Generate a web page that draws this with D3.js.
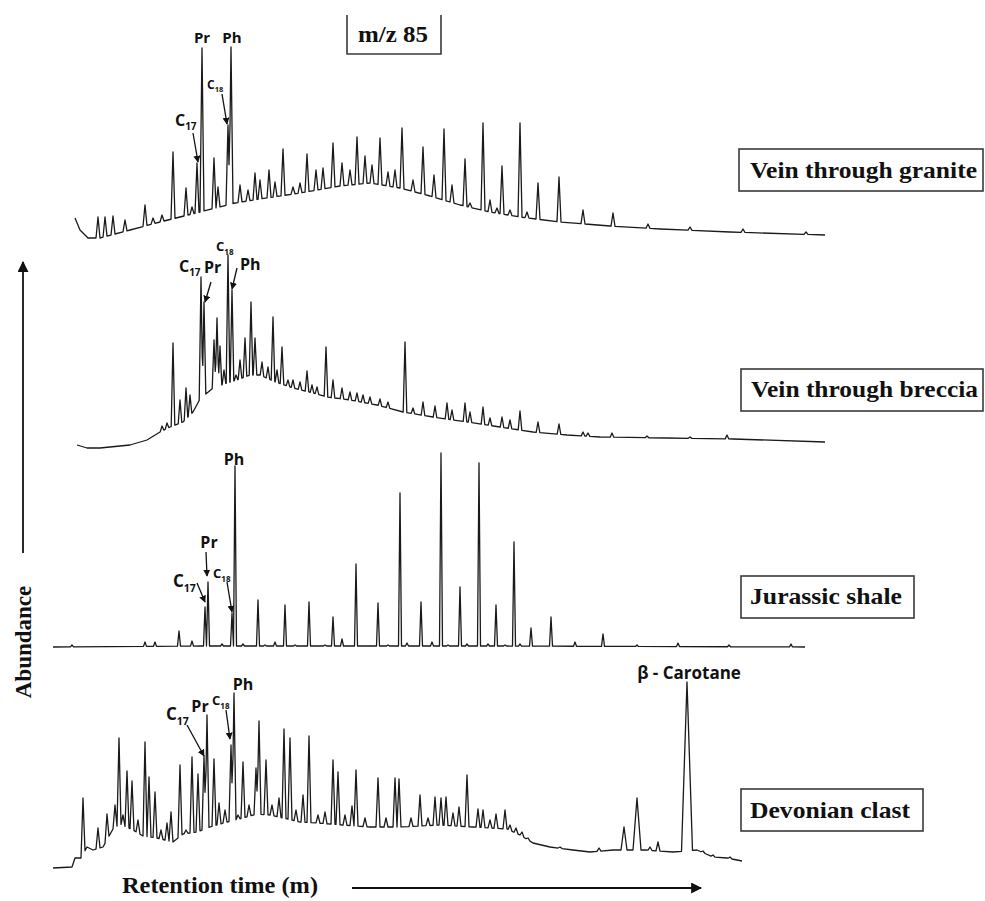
<!DOCTYPE html>
<html><head><meta charset="utf-8">
<script src="https://cdn.jsdelivr.net/npm/d3@7"></script>
<style>body{margin:0;background:#fff}</style>
</head><body>
<svg id="c" width="985" height="901"></svg>
<script>
// ---------------- DATA (retention in scan units, abundance in arbitrary units) ----------------
const sampleNames = ["Vein through granite", "Vein through breccia", "Jurassic shale", "Devonian clast"];
const ionLabel = "m/z 85";

// baseline hump (unresolved complex mixture) control points: [scan, abundance]
const graniteBaseline = [[25,22],[30,10],[38,2],[50,2],[80,10],[110,18],[150,28],[185,37],[210,41],[250,47],[290,54],[320,57],[350,52],[380,44],[410,35],[440,28],[470,23],[510,18],[560,14],[610,11],[680,8],[775,5]];
// resolved peaks: [scan, apex abundance]
const granitePeaks = [[48,23],[55,23],[63,24],[75,20],[95,35],[103,22],[112,25],[123,88],[136,52],[142,33],[147,77],[152,192],[164,82],[168,53],[178,115],[181,193],[190,55],[198,50],[205,67],[210,60],[219,70],[225,58],[233,91],[243,53],[250,57],[257,86],[266,70],[273,72],[283,97],[292,77],[300,70],[307,103],[315,84],[322,75],[330,102],[338,68],[345,70],[352,112],[363,60],[373,93],[384,65],[394,111],[402,55],[415,81],[420,37],[433,117],[440,40],[447,32],[452,74],[460,30],[470,117],[477,28],[488,57],[509,63],[533,30],[563,27],[598,16],[640,13],[693,11],[756,8]];

const brecciaBaseline = [[27,5],[37,2],[50,2],[80,5],[97,10],[110,18],[120,23],[133,28],[143,38],[150,51],[163,62],[177,67],[187,70],[200,75],[210,75],[223,69],[243,62],[263,57],[277,53],[300,50],[327,45],[353,38],[383,33],[417,28],[450,23],[483,18],[517,15],[550,13],[617,12],[683,11],[775,8]];
const brecciaPeaks = [[112,24],[117,27],[123,107],[130,50],[136,62],[140,55],[151,173],[154,148],[164,110],[167,132],[170,104],[174,80],[178,195],[182,160],[186,75],[190,90],[195,112],[201,148],[205,112],[212,88],[218,83],[223,133],[227,80],[232,103],[238,70],[243,70],[250,68],[257,79],[262,65],[267,63],[276,103],[283,70],[292,62],[300,58],[307,57],[313,55],[320,53],[330,51],[338,48],[355,108],[363,42],[373,48],[385,44],[397,47],[402,40],[415,47],[420,38],[433,43],[440,32],[452,33],[460,30],[470,39],[488,28],[509,26],[533,18],[538,17],[562,17],[597,14],[640,13],[677,15]];

const jurassicBaseline = [[3,1],[150,2],[450,2],[755,1]];
const jurassicPeaks = [[22,3],[95,6],[105,6],[129,17],[142,7],[155,41],[158,66],[172,4],[182,35],[185,182],[193,4],[208,48],[215,3],[225,6],[235,43],[245,3],[259,46],[275,3],[283,31],[292,9],[306,84],[328,45],[338,3],[350,155],[357,5],[371,46],[382,6],[391,195],[398,3],[410,61],[417,4],[429,185],[438,4],[446,43],[455,3],[464,106],[470,4],[481,20],[501,31],[525,6],[553,14],[587,3],[628,5],[679,3],[741,4]];

const devonianBaseline = [[3,2],[22,3],[25,12],[31,12],[37,23],[43,20],[53,23],[63,41],[70,46],[83,40],[93,34],[107,32],[123,28],[133,36],[147,38],[160,43],[177,48],[193,52],[207,56],[220,55],[233,52],[250,48],[267,47],[293,45],[320,43],[350,43],[390,45],[423,43],[457,41],[470,35],[483,27],[500,23],[523,20],[540,18],[563,20],[595,20],[623,18],[647,20],[663,13],[677,12],[692,9]];
// [scan, apex, optional half-width]
const devonianPeaks = [[33,72],[48,42],[57,56],[65,65],[69,132],[73,55],[77,99],[82,89],[88,50],[95,128],[99,93],[105,78],[111,40],[117,47],[121,58],[130,105],[136,40],[142,113],[148,96],[154,114],[157,155],[164,111],[169,67],[175,60],[181,125],[184,177],[188,55],[193,108],[199,65],[206,102],[209,149],[216,110],[222,65],[229,72],[234,141],[240,132],[246,60],[253,75],[259,134],[268,55],[275,58],[283,110],[288,98],[295,55],[302,64],[306,100],[315,52],[328,92],[336,52],[345,92],[349,91],[361,52],[370,75],[378,52],[385,73],[391,72],[396,73],[403,57],[409,63],[417,95],[428,61],[433,60],[440,50],[446,56],[455,60],[460,45],[466,42],[472,38],[478,32],[510,23],[549,22],[574,43,3],[587,72,4],[600,23],[608,28],[637,188,5.5],[653,19],[663,15],[680,13]];

// ---------------- LAYOUT ----------------
const svg = d3.select('#c');
const x = d3.scaleLinear().domain([0, 800]).range([50, 850]);
const panels = [
  {base: graniteBaseline, peaks: granitePeaks, hw: 2.0, zero: 240},
  {base: brecciaBaseline, peaks: brecciaPeaks, hw: 1.8, zero: 450},
  {base: jurassicBaseline, peaks: jurassicPeaks, hw: 1.5, zero: 648},
  {base: devonianBaseline, peaks: devonianPeaks, hw: 2.0, zero: 870}
];

function baseAt(base, v) {
  if (v <= base[0][0]) return base[0][1];
  for (let i = 1; i < base.length; i++) {
    if (v <= base[i][0]) {
      const [x0, y0] = base[i-1], [x1, y1] = base[i];
      return y0 + (y1 - y0) * (v - x0) / (x1 - x0);
    }
  }
  return base[base.length-1][1];
}
function traceVertices(base, peaks, hw) {
  const tri = peaks.map(p => ({c: p[0], a: p[1], w: p[2] || hw}));
  const xs = new Set(base.map(d => d[0]));
  tri.forEach(t => { xs.add(t.c - t.w); xs.add(t.c); xs.add(t.c + t.w); });
  const lo = base[0][0], hi = base[base.length-1][0];
  const arr = [...xs].filter(v => v >= lo && v <= hi).sort((a, b) => a - b);
  return arr.map(v => {
    let val = baseAt(base, v);
    tri.forEach(t => {
      const d = v - t.c;
      if (Math.abs(d) <= t.w) {
        const foot = baseAt(base, t.c + (d < 0 ? -t.w : t.w));
        const tv = t.a + (foot - t.a) * Math.abs(d) / t.w;
        if (tv > val) val = tv;
      }
    });
    return [v, val];
  });
}

panels.forEach(p => {
  const y = d3.scaleLinear().domain([0, 250]).range([p.zero, p.zero - 250]);
  const line = d3.line().x(d => x(d[0])).y(d => y(d[1]));
  svg.append('path')
    .attr('d', line(traceVertices(p.base, p.peaks, p.hw)))
    .attr('fill', 'none').attr('stroke', '#1a1a1a').attr('stroke-width', 1.3)
    .attr('stroke-linejoin', 'round');
});

// markers
const defs = svg.append('defs');
function marker(id, size) {
  defs.append('marker').attr('id', id).attr('viewBox', '0 0 10 10')
    .attr('refX', 9).attr('refY', 5).attr('markerWidth', size).attr('markerHeight', size)
    .attr('markerUnits', 'userSpaceOnUse').attr('orient', 'auto')
    .append('path').attr('d', 'M0,0L10,5L0,10z').attr('fill', '#111');
}
marker('ah', 7); marker('big', 11);

// sample boxes
const serif = '"Liberation Serif","Times New Roman",serif';
const boxes = [
  {x0: 739, y0: 149, x1: 983, y1: 191, tx: 750, ty: 178, tw: 227},
  {x0: 741, y0: 369, x1: 983, y1: 411, tx: 751, ty: 397, tw: 227},
  {x0: 741, y0: 576, x1: 914, y1: 618, tx: 750, ty: 604, tw: 152},
  {x0: 741, y0: 789, x1: 923, y1: 831, tx: 750, ty: 818, tw: 160}
];
boxes.forEach((b, i) => {
  svg.append('rect').attr('x', b.x0).attr('y', b.y0).attr('width', b.x1 - b.x0).attr('height', b.y1 - b.y0)
    .attr('fill', 'none').attr('stroke', '#3a3a3a').attr('stroke-width', 1.6);
  svg.append('text').attr('x', b.tx).attr('y', b.ty).attr('textLength', b.tw).attr('lengthAdjust', 'spacingAndGlyphs')
    .style('font-family', serif).style('font-weight', 'bold').style('font-size', '24px').attr('fill', '#111')
    .text(sampleNames[i]);
});
// m/z box (open top)
svg.append('path').attr('d', 'M347,15V54H441V15').attr('fill', 'none').attr('stroke', '#3a3a3a').attr('stroke-width', 1.6);
svg.append('text').attr('x', 358).attr('y', 42).attr('textLength', 70).attr('lengthAdjust', 'spacingAndGlyphs')
  .style('font-family', serif).style('font-weight', 'bold').style('font-size', '23px').attr('fill', '#111').text(ionLabel);

// axes labels
svg.append('line').attr('x1', 23).attr('y1', 553).attr('x2', 23).attr('y2', 262)
  .attr('stroke', '#111').attr('stroke-width', 1.8).attr('marker-end', 'url(#big)');
svg.append('text').attr('transform', 'translate(31,642) rotate(-90)').attr('text-anchor', 'middle')
  .style('font-family', serif).style('font-weight', 'bold').style('font-size', '23px').attr('fill', '#111').text('Abundance');
svg.append('text').attr('x', 122).attr('y', 893).attr('textLength', 196).attr('lengthAdjust', 'spacingAndGlyphs')
  .style('font-family', serif).style('font-weight', 'bold').style('font-size', '23px').attr('fill', '#111').text('Retention time (m)');
svg.append('line').attr('x1', 352).attr('y1', 888).attr('x2', 701).attr('y2', 888)
  .attr('stroke', '#111').attr('stroke-width', 1.8).attr('marker-end', 'url(#big)');

// peak annotations
const sans = '"Open Sans","Noto Sans",sans-serif';
const notes = [
  {t: 'Pr', x: 202, y: 43, fs: 15, a: 'middle'}, {t: 'Ph', x: 232, y: 43, fs: 15, a: 'middle'},
  {t: 'C', s: '18', x: 207, y: 89, fs: 12}, {t: 'C', s: '17', x: 175, y: 126, fs: 16},
  {t: 'C', s: '17', x: 179, y: 272, fs: 16}, {t: 'Pr', x: 204, y: 273, fs: 16},
  {t: 'C', s: '18', x: 216, y: 251, fs: 13}, {t: 'Ph', x: 240, y: 270, fs: 16},
  {t: 'Ph', x: 234, y: 465, fs: 16, a: 'middle'}, {t: 'Pr', x: 209, y: 548, fs: 16, a: 'middle'},
  {t: 'C', s: '17', x: 173, y: 587, fs: 17}, {t: 'C', s: '18', x: 213, y: 578, fs: 13},
  {t: 'Ph', x: 243, y: 690, fs: 16, a: 'middle'}, {t: 'C', s: '17', x: 166, y: 720, fs: 17},
  {t: 'Pr', x: 200, y: 712, fs: 16, a: 'middle'}, {t: 'C', s: '18', x: 212, y: 705, fs: 13},
  {t: 'β - Carotane', x: 689, y: 679, fs: 17, a: 'middle'}
];
notes.forEach(n => {
  const t = svg.append('text').attr('x', n.x).attr('y', n.y).attr('text-anchor', n.a || 'start')
    .style('font-family', sans).style('font-weight', 'bold').style('font-size', n.fs + 'px').attr('fill', '#111');
  t.append('tspan').text(n.t);
  if (n.s) t.append('tspan').attr('dy', n.fs * 0.28).style('font-size', (n.fs * 0.62) + 'px').text(n.s);
});
const arrows = [
  [222, 94, 227, 124], [193, 133, 198, 162],
  [211, 282, 205, 302], [237, 268, 232, 289],
  [206, 552, 207, 576], [197, 583, 205, 602], [227, 582, 232, 612],
  [187, 725, 204, 756], [226, 710, 230, 739]
];
arrows.forEach(a => {
  svg.append('line').attr('x1', a[0]).attr('y1', a[1]).attr('x2', a[2]).attr('y2', a[3])
    .attr('stroke', '#111').attr('stroke-width', 1.3).attr('marker-end', 'url(#ah)');
});
</script>
</body></html>
